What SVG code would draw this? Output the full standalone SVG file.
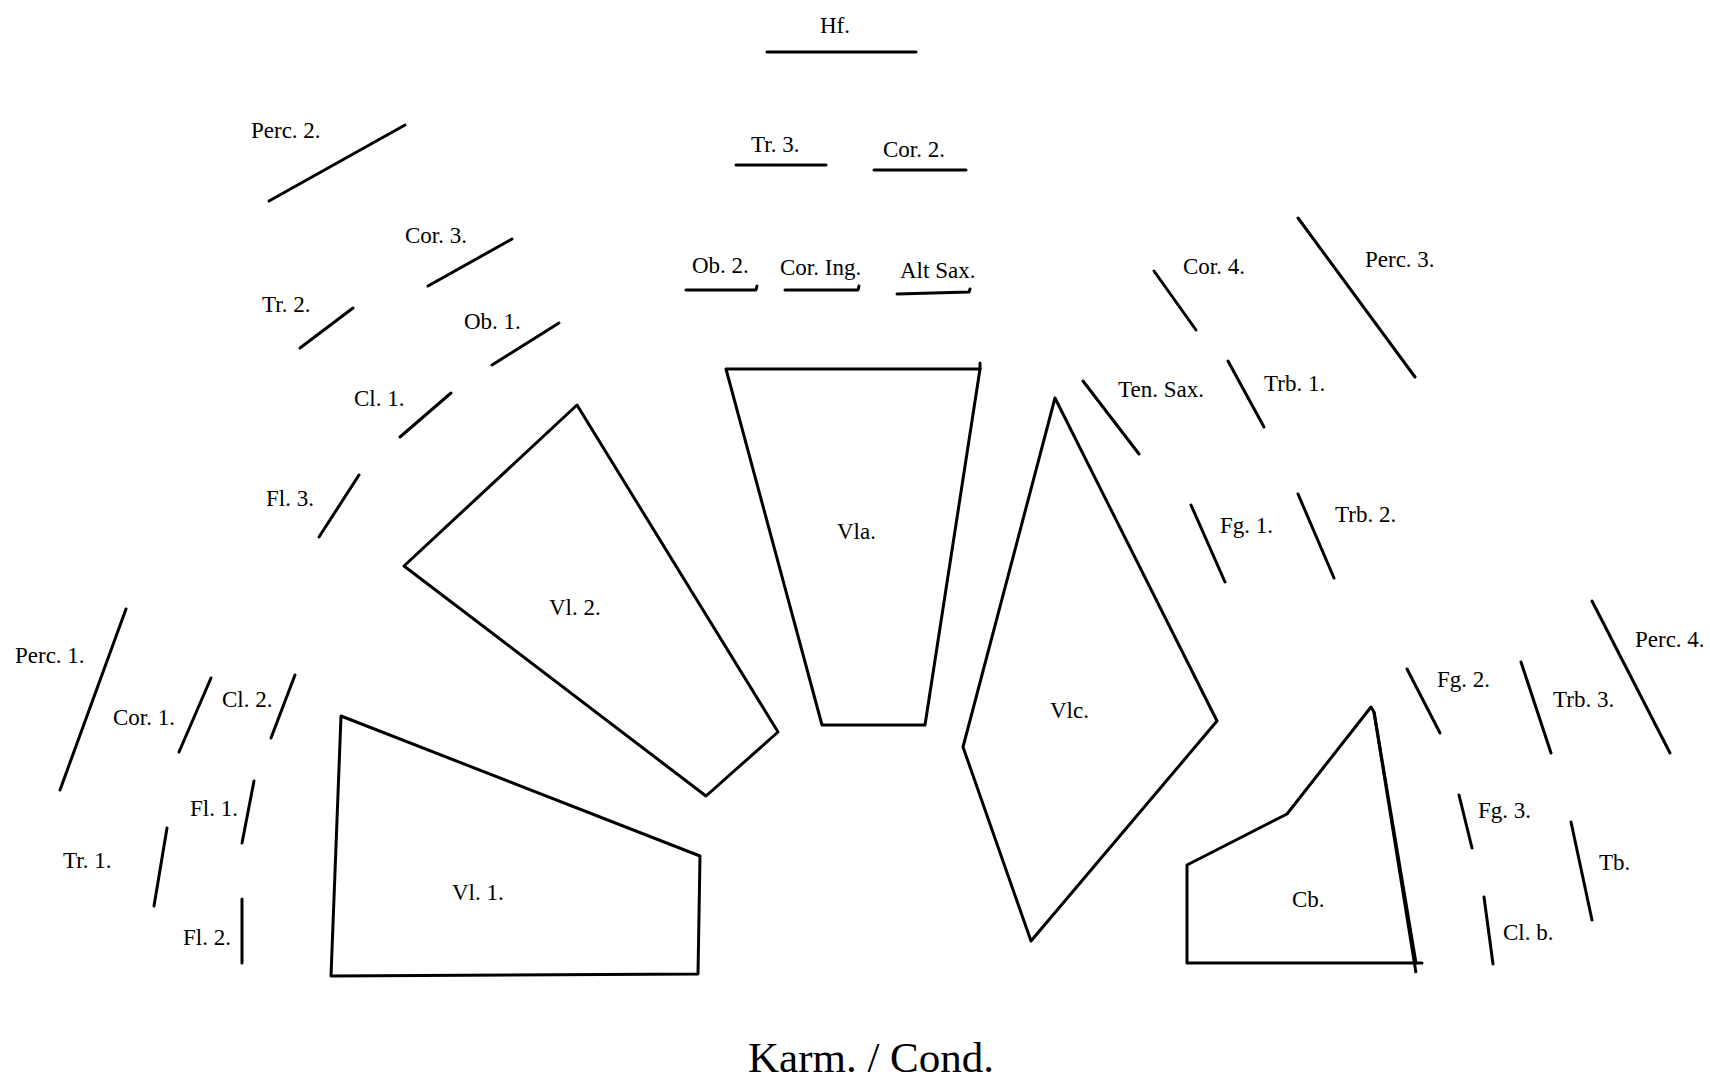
<svg xmlns="http://www.w3.org/2000/svg" width="1710" height="1084" viewBox="0 0 1710 1084">
<style>
.bg{fill:#ffffff}
.ln{stroke:#000;stroke-width:3;fill:none;stroke-linecap:round;stroke-linejoin:round}
.sec{stroke:#000;stroke-width:3;fill:none;stroke-linejoin:round}
.lb{font-family:"Liberation Serif","Times New Roman",serif;font-size:23px;fill:#000}
.big{font-family:"Liberation Serif","Times New Roman",serif;font-size:43px;fill:#000}
</style>
<rect class="bg" x="0" y="0" width="1710" height="1084"/>

<g id="hf"><line class="ln" x1="767" y1="52" x2="916" y2="52" stroke-width="3.5"/><text class="lb" x="820" y="33">Hf.</text></g>
<g id="tr3"><line class="ln" x1="736" y1="165" x2="826" y2="165" stroke-width="3.5"/><text class="lb" x="751" y="152">Tr. 3.</text></g>
<g id="cor2"><line class="ln" x1="874" y1="170" x2="966" y2="170" stroke-width="3.5"/><text class="lb" x="883" y="157">Cor. 2.</text></g>
<g id="perc2"><line class="ln" x1="269" y1="201" x2="405" y2="125"/><text class="lb" x="251" y="138">Perc. 2.</text></g>
<g id="cor3"><line class="ln" x1="428" y1="286" x2="512" y2="239"/><text class="lb" x="405" y="243">Cor. 3.</text></g>
<g id="ob2"><polyline class="ln" points="686,290 756,290 757,286" stroke-width="3.5"/><text class="lb" x="692" y="273">Ob. 2.</text></g>
<g id="coring"><polyline class="ln" points="785,290 858,290 859,286" stroke-width="3.5"/><text class="lb" x="780" y="275">Cor. Ing.</text></g>
<g id="altsax"><polyline class="ln" points="897,294 969,292 970,289" stroke-width="3.5"/><text class="lb" x="900" y="278">Alt Sax.</text></g>
<g id="cor4"><line class="ln" x1="1154" y1="271" x2="1196" y2="330"/><text class="lb" x="1183" y="274">Cor. 4.</text></g>
<g id="perc3"><line class="ln" x1="1298" y1="218" x2="1415" y2="377"/><text class="lb" x="1365" y="267">Perc. 3.</text></g>
<g id="tr2"><line class="ln" x1="300" y1="348" x2="353" y2="308"/><text class="lb" x="262" y="312">Tr. 2.</text></g>
<g id="ob1"><line class="ln" x1="492" y1="365" x2="559" y2="323"/><text class="lb" x="464" y="329">Ob. 1.</text></g>
<g id="cl1"><line class="ln" x1="400" y1="437" x2="451" y2="393"/><text class="lb" x="354" y="406">Cl. 1.</text></g>
<g id="tensax"><line class="ln" x1="1083" y1="381" x2="1139" y2="454"/><text class="lb" x="1118" y="397">Ten. Sax.</text></g>
<g id="trb1"><line class="ln" x1="1228" y1="361" x2="1264" y2="427"/><text class="lb" x="1264" y="391">Trb. 1.</text></g>
<g id="fl3"><line class="ln" x1="319" y1="537" x2="359" y2="475"/><text class="lb" x="266" y="506">Fl. 3.</text></g>
<g id="fg1"><line class="ln" x1="1191" y1="505" x2="1225" y2="582"/><text class="lb" x="1220" y="533">Fg. 1.</text></g>
<g id="trb2"><line class="ln" x1="1298" y1="494" x2="1334" y2="578"/><text class="lb" x="1335" y="522">Trb. 2.</text></g>
<g id="perc1"><line class="ln" x1="60" y1="790" x2="126" y2="609"/><text class="lb" x="15" y="663">Perc. 1.</text></g>
<g id="perc4"><line class="ln" x1="1592" y1="601" x2="1670" y2="753"/><text class="lb" x="1635" y="647">Perc. 4.</text></g>
<g id="cl2"><line class="ln" x1="271" y1="738" x2="295" y2="675"/><text class="lb" x="222" y="707">Cl. 2.</text></g>
<g id="cor1"><line class="ln" x1="179" y1="752" x2="211" y2="678"/><text class="lb" x="113" y="725">Cor. 1.</text></g>
<g id="fg2"><line class="ln" x1="1407" y1="669" x2="1440" y2="733"/><text class="lb" x="1437" y="687">Fg. 2.</text></g>
<g id="trb3"><line class="ln" x1="1521" y1="662" x2="1551" y2="753"/><text class="lb" x="1553" y="707">Trb. 3.</text></g>
<g id="fl1"><line class="ln" x1="254" y1="781" x2="242" y2="843"/><text class="lb" x="190" y="816">Fl. 1.</text></g>
<g id="fg3"><line class="ln" x1="1459" y1="795" x2="1472" y2="848"/><text class="lb" x="1478" y="818">Fg. 3.</text></g>
<g id="tr1"><line class="ln" x1="167" y1="828" x2="154" y2="906"/><text class="lb" x="63" y="868">Tr. 1.</text></g>
<g id="tb"><line class="ln" x1="1571" y1="822" x2="1592" y2="920"/><text class="lb" x="1599" y="870">Tb.</text></g>
<g id="clb"><line class="ln" x1="1484" y1="897" x2="1493" y2="964"/><text class="lb" x="1503" y="940">Cl. b.</text></g>
<g id="fl2"><line class="ln" x1="242" y1="899" x2="242" y2="963"/><text class="lb" x="183" y="945">Fl. 2.</text></g>

<g id="vl2"><polygon class="sec" points="404,566 577,405 778,732 706,796"/><text class="lb" x="549" y="615">Vl. 2.</text></g>
<g id="vla"><polygon class="sec" points="726,369 980,369 925,725 822,725" stroke-width="3.5"/><line class="ln" x1="980" y1="369" x2="980" y2="363"/><text class="lb" x="837" y="539">Vla.</text></g>
<g id="vlc"><polygon class="sec" points="1055,398 1217,721 1031,941 963,747"/><text class="lb" x="1050" y="718">Vlc.</text></g>
<g id="vl1"><polygon class="sec" points="341,716 700,856 698,974 331,976" stroke-width="3.5"/><text class="lb" x="452" y="900">Vl. 1.</text></g>
<g id="cb"><polyline class="sec" points="1374,712 1416,973" stroke-width="3.5"/><polygon class="sec" points="1187,865 1287,814 1371,707 1374,712 1416,963 1187,963" stroke-width="3.5"/><line class="ln" x1="1416" y1="963" x2="1422" y2="963"/><text class="lb" x="1292" y="907">Cb.</text></g>

<g id="conductor"><text class="big" x="748" y="1072">Karm. / Cond.</text></g>
</svg>
